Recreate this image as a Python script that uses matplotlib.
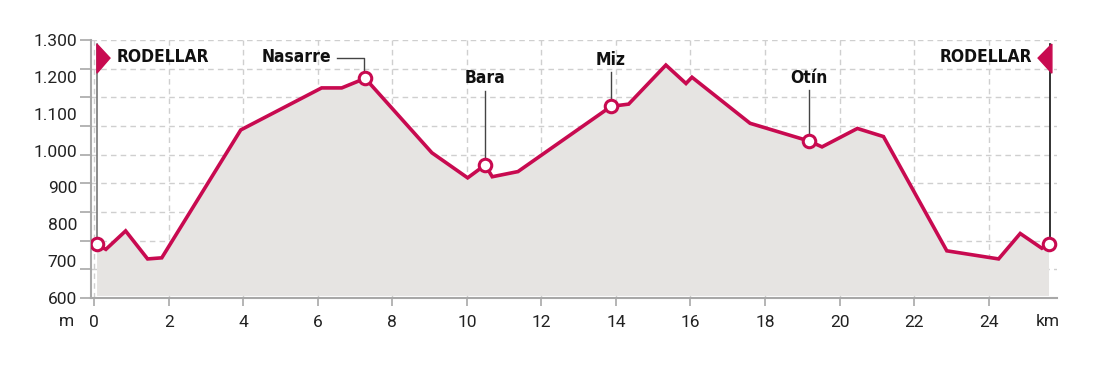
import numpy as np
import matplotlib
matplotlib.use("Agg")
from matplotlib import pyplot as plt
from matplotlib.patches import Polygon

# ----------------------------------- DATA ----------------------------------- #

km = [0.06, 0.31, 0.84, 1.43, 1.81, 3.93, 6.10, 6.64, 7.27, 9.06, 10.02, 10.49,
      10.68, 11.37, 13.87, 14.34, 15.34, 15.88, 16.04, 17.60, 19.18, 19.53,
      20.48, 21.18, 22.88, 24.27, 24.85, 25.43, 25.61]
elevation = [746, 732, 782, 706, 709, 1056, 1170, 1170, 1196, 994, 926, 961,
             929, 943, 1120, 1126, 1232, 1182, 1199, 1074, 1026, 1010,
             1060, 1038, 728, 706, 775, 735, 746]

# places: name, km, elevation
places = ["RODELLAR", "Nasarre", "Bara", "Miz", "Otín", "RODELLAR"]
place_km = [0.06, 7.27, 10.49, 13.87, 19.18, 25.61]
place_elev = [746, 1196, 961, 1120, 1026, 746]

x_ticks = list(range(0, 25, 2))
y_labels = list(range(600, 1301, 100))

# ---------------------------------- STYLE ----------------------------------- #

CRIMSON = "#c80a50"
FILL = "#e6e4e2"
GRID = "#cfcfcf"
AXIS = "#a8a8a8"
TXT = "#222222"
LEADER = "#444444"
LABEL_KW = dict(fontsize=12.5, fontweight="bold", fontstretch="condensed",
                family=["DejaVu Sans"], color="#111111")

plt.rcParams["font.family"] = ["Roboto", "DejaVu Sans"]

fig = plt.figure(figsize=(11, 3.67), dpi=100)
ax = fig.add_axes([0.0827, 0.188, 0.961 - 0.0827, 0.891 - 0.188])

ax.set_xlim(-0.09, 25.84)
ax.set_ylim(600, 1300)

# gridlines / tick marks do not follow the 100 m labels in the original
ax.yaxis.remove_overlapping_locs = False
ax.set_yticks(np.linspace(600, 1300, 10))
ax.set_yticklabels([])
ax.set_yticks(y_labels, minor=True)
ax.set_yticklabels([f"{v:,}".replace(",", ".") for v in y_labels], minor=True)
ax.tick_params(axis="y", which="major", length=8, color=AXIS, width=1.2)
ax.tick_params(axis="y", which="minor", length=0, pad=10, labelsize=12.5,
               labelcolor=TXT)

ax.set_xticks(x_ticks)
ax.set_xticklabels([str(v) for v in x_ticks])
ax.tick_params(axis="x", length=6, color=AXIS, width=1.2, labelsize=12.5,
               labelcolor=TXT, pad=6)

ax.grid(True, which="major", color=GRID, linestyle=(0, (4, 3)), linewidth=1)
ax.set_axisbelow(True)

for side in ["top", "right"]:
    ax.spines[side].set_visible(False)
for side in ["left", "bottom"]:
    ax.spines[side].set_color(AXIS)
    ax.spines[side].set_linewidth(1.5)

fig.text(66 / 1100, 1 - 322 / 367, "m", ha="center", va="center",
         fontsize=12.5, color=TXT)
fig.text(1048 / 1100, 1 - 322 / 367, "km", ha="center", va="center",
         fontsize=12.5, color=TXT)

# ----------------------------------- PLOT ----------------------------------- #

ax.fill_between(km, elevation, 607, color=FILL, linewidth=0, zorder=1)
ax.plot(km, elevation, color=CRIMSON, linewidth=2.6, solid_joinstyle="miter",
        zorder=3)
ax.plot(place_km, place_elev, linestyle="none", marker="o", markersize=9,
        markerfacecolor="white", markeredgecolor=CRIMSON, markeredgewidth=2.2,
        zorder=4)

# ---------------------------- START / END FLAGS ----------------------------- #

flags = [(0.07, 0.07, 0.42, "left", 0.59, "#777777"),
         (25.66, 25.70, 25.33, "right", 25.17, "#111111")]
for (x_line, x_base, x_tip, ha, x_txt, line_color), name in zip(flags, [places[0], places[-1]]):
    ax.plot([x_line, x_line], [746, 1289], color=line_color, linewidth=1.2,
            zorder=2, clip_on=False)
    ax.add_patch(Polygon([[x_base, 1289], [x_tip, 1251], [x_base, 1210]],
                         closed=True, color=CRIMSON, zorder=5, clip_on=False))
    ax.text(x_txt, 1254, name, ha=ha, va="center", **LABEL_KW)

# ------------------------------- PLACE LABELS ------------------------------- #

# Nasarre: label on the left, elbow leader
ax.plot([6.51, 7.24, 7.24], [1251, 1251, 1213], color=LEADER, linewidth=1,
        zorder=2)
ax.text(6.35, 1254, places[1], ha="right", va="center", **LABEL_KW)

for name, x, y_txt, y_top, y_mark in [(places[2], 10.49, 1197, 1162, 961),
                                      (places[3], 13.87, 1246, 1213, 1120),
                                      (places[4], 19.18, 1197, 1164, 1026)]:
    ax.plot([x, x], [y_top, y_mark], color=LEADER, linewidth=1, zorder=2)
    ax.text(x, y_txt, name, ha="center", va="center", **LABEL_KW)

fig.savefig("out.png", dpi=100)
